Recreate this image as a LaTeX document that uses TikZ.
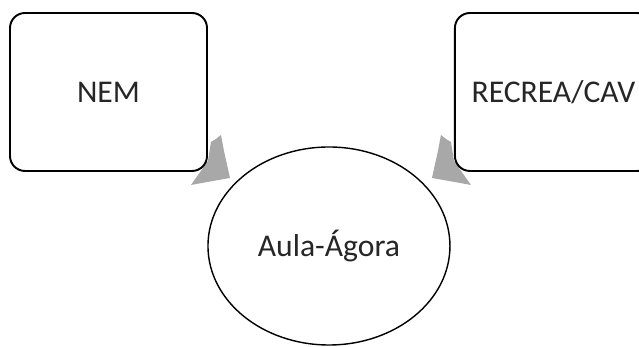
\documentclass[tikz,border=0pt]{standalone}
\usepackage{fontspec}
\setmainfont{Carlito}
\usetikzlibrary{%
  shapes,
  positioning,
  calc
}
\definecolor{arrowgray}{RGB}{168,168,168}
\tikzstyle{roundblock}=[draw, fill=white, rectangle, rounded corners=0.3cm, line width=1.1pt, minimum height=3.16cm, minimum width=3.94cm, inner sep=2mm, font=\fontsize{18}{21}\selectfont]
\tikzstyle{goal} = [draw, fill=white, ellipse, line width=0.8pt, minimum height=3.96cm, minimum width=4.84cm, font=\fontsize{18}{21}\selectfont]
\tikzstyle{fatarrow} = [fill=arrowgray]
\pgfdeclarelayer{background}
\pgfdeclarelayer{foreground}
\pgfsetlayers{background,main,foreground}
\begin{document}
\begin{tikzpicture}[node distance=1.0cm, text=black!85]
        \useasboundingbox (0,0) rectangle (12.78,-6.94);
        \node[roundblock] (nem) at (2.17,-1.84) {NEM};
        \node[roundblock, right=4.92cm of nem] (recrea) {RECREA/CAV};
        \node[goal] (aula) at ($(nem)!0.5!(recrea)+(-0.04,-3.08)$) {Aula-Ágora};
        \begin{pgfonlayer}{background}
          \fill[fatarrow] ($(nem.south east)+(-0.34,-0.26)$) -- ++(0.34,0.48) -- ++(0.06,0.38) -- ++(0.1,0.06) -- ++(0.1,0.08) -- ++(0.06,-0.32) -- ++(0.12,-0.54) -- cycle;
          \fill[fatarrow] ($(recrea.south west)+(0.34,-0.26)$) -- ++(-0.34,0.48) -- ++(-0.06,0.38) -- ++(-0.1,0.06) -- ++(-0.1,0.08) -- ++(-0.06,-0.32) -- ++(-0.12,-0.54) -- cycle;
        \end{pgfonlayer}
      \end{tikzpicture}
\end{document}
